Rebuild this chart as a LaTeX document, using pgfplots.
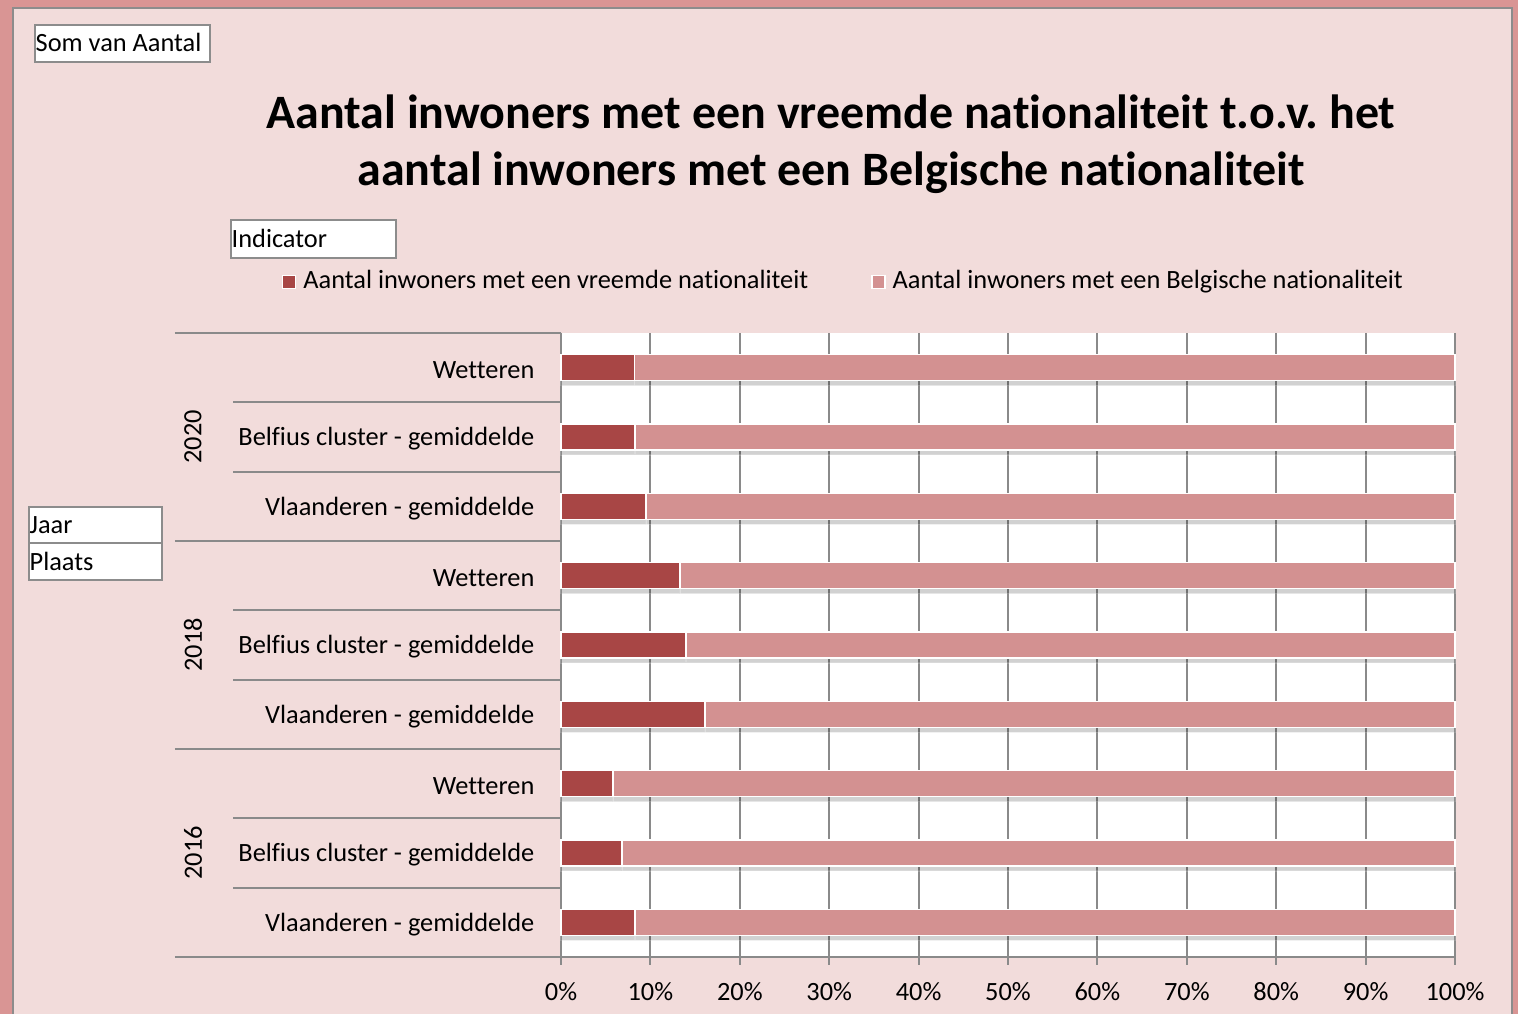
\documentclass[border=0pt]{standalone}
\usepackage{pgfplots}
\pgfplotsset{compat=1.18}
\usetikzlibrary{shadows}
\usepackage{fontspec}
\setmainfont{Carlito}[Ligatures=NoCommon]
\definecolor{outerpink}{HTML}{D99594}
\definecolor{bgpink}{HTML}{F2DCDB}
\definecolor{framegray}{HTML}{8C8C8C}
\definecolor{gridgray}{HTML}{8A8A8A}
\definecolor{vreemd}{HTML}{A84645}
\definecolor{belg}{HTML}{D39191}

% share of inhabitants (percent), bottom category first
\pgfplotstableread{
idx vreemd belg
0   8.3  91.7
1   6.8  93.2
2   5.8  94.2
3   16.1 83.9
4   14.0 86.0
5   13.3 86.7
6   9.5  90.5
7   8.3  91.7
8   8.2  91.8
}\shares

\newcommand{\lbl}{\fontsize{7.5}{9}\selectfont}

\begin{document}
\begin{tikzpicture}
% page and frame (1 px = 0.01 cm)
\path[use as bounding box, fill=outerpink] (0,0) rectangle (15.18,10.14);
\fill[bgpink] (0.13,0) rectangle (15.12,10.06);
\draw[framegray, line width=0.02cm] (0.13,0) -- (0.13,10.06) -- (15.12,10.06) -- (15.12,0);

% field buttons
\node[draw=framegray, fill=white, line width=0.02cm, minimum width=1.75cm, minimum height=0.37cm,
  inner sep=0pt, anchor=north west] (som) at (0.34,9.90) {};
\node[anchor=west, inner sep=0pt, font=\lbl] at (0.35,9.715) {Som van Aantal};
\node[draw=framegray, fill=white, line width=0.02cm, minimum width=1.65cm, minimum height=0.38cm,
  inner sep=0pt, anchor=north west] at (2.30,7.95) {};
\node[anchor=west, inner sep=0pt, font=\lbl] at (2.31,7.76) {Indicator};
\node[draw=framegray, fill=white, line width=0.02cm, minimum width=1.33cm, minimum height=0.36cm,
  inner sep=0pt, anchor=north west] at (0.28,5.08) {};
\node[anchor=west, inner sep=0pt, font=\lbl] at (0.29,4.89) {Jaar};
\node[draw=framegray, fill=white, line width=0.02cm, minimum width=1.33cm, minimum height=0.37cm,
  inner sep=0pt, anchor=north west] at (0.28,4.72) {};
\node[anchor=west, inner sep=0pt, font=\lbl] at (0.29,4.53) {Plaats};

% title
\node[anchor=base, inner sep=0pt, font=\fontsize{13.65}{16}\selectfont\bfseries] at (8.31,8.85)
  {Aantal inwoners met een vreemde nationaliteit t.o.v.\ het};
\node[anchor=base, inner sep=0pt, font=\fontsize{13.65}{16}\selectfont\bfseries] at (8.31,8.28)
  {aantal inwoners met een Belgische nationaliteit};

\begin{axis}[
  at={(5.61cm,0.57cm)}, anchor=south west,
  scale only axis, width=8.94cm, height=6.24cm,
  xbar stacked, bar width=0.26cm,
  xmin=0, xmax=100, ymin=-0.5, ymax=8.5,
  axis background/.style={fill=white},
  axis x line*=bottom, axis y line*=left,
  axis line style={draw=gridgray, line width=0.02cm},
  xmajorgrids, major grid style={draw=gridgray, line width=0.02cm},
  xtick={0,10,...,100},
  xticklabels={0\%,10\%,20\%,30\%,40\%,50\%,60\%,70\%,80\%,90\%,100\%},
  tick align=outside, major tick length=0.08cm,
  tick style={draw=gridgray, line width=0.02cm},
  ytick={0,...,8}, ytick style={draw=none},
  yticklabels={Vlaanderen - gemiddelde, Belfius cluster - gemiddelde, Wetteren,
    Vlaanderen - gemiddelde, Belfius cluster - gemiddelde, Wetteren,
    Vlaanderen - gemiddelde, Belfius cluster - gemiddelde, Wetteren},
  tick label style={font=\lbl, text=black},
  yticklabel style={anchor=east, inner sep=0pt, xshift=-0.18cm, yshift=-0.02cm},
  xticklabel style={inner sep=0pt, yshift=-0.17cm},
  legend columns=2,
  legend style={draw=none, fill=none, font=\lbl, at={(-0.313,1.081)}, anchor=west,
    inner sep=0pt, /tikz/every even column/.append style={column sep=0.56cm}},
  legend cell align=left,
  legend image code/.code={\filldraw[#1] (0cm,-0.06cm) rectangle (0.13cm,0.07cm);},
  clip=false,
]
\addplot[fill=vreemd, draw=white, line width=0.015cm, forget plot,
  drop shadow={shadow xshift=0cm, shadow yshift=-0.05cm, fill=black, opacity=0.18}]
  table[x=vreemd, y=idx] {\shares};
\addplot[fill=belg, draw=white, line width=0.015cm, forget plot,
  drop shadow={shadow xshift=0cm, shadow yshift=-0.05cm, fill=black, opacity=0.18}]
  table[x=belg, y=idx] {\shares};
\addlegendimage{fill=vreemd, draw=white, line width=0.015cm}
\addlegendentry{Aantal inwoners met een vreemde nationaliteit}
\addlegendimage{fill=belg, draw=white, line width=0.015cm}
\addlegendentry{Aantal inwoners met een Belgische nationaliteit}

% hierarchical category axis
\pgfplotsinvokeforeach{-0.5,2.5,5.5,8.5}{
  \draw[gridgray, line width=0.02cm] ([xshift=-3.86cm]axis cs:0,#1) -- (axis cs:0,#1);}
\pgfplotsinvokeforeach{0.5,1.5,3.5,4.5,6.5,7.5}{
  \draw[gridgray, line width=0.02cm] ([xshift=-3.28cm]axis cs:0,#1) -- (axis cs:0,#1);}
\node[rotate=90, font=\lbl] at ([xshift=-3.68cm]axis cs:0,7) {2020};
\node[rotate=90, font=\lbl] at ([xshift=-3.68cm]axis cs:0,4) {2018};
\node[rotate=90, font=\lbl] at ([xshift=-3.68cm]axis cs:0,1) {2016};
\end{axis}
\end{tikzpicture}
\end{document}
